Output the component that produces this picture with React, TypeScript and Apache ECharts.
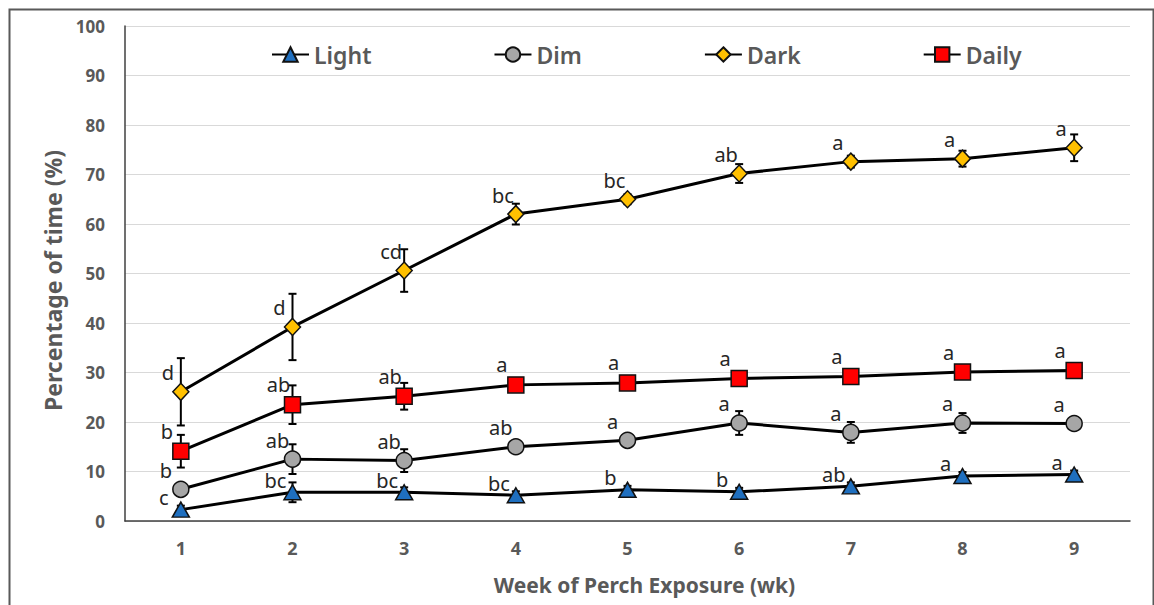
import React, { useEffect, useRef } from "react";
import * as echarts from "echarts";

// Weeks of perch exposure
const weeks = ["1", "2", "3", "4", "5", "6", "7", "8", "9"];

// Mean percentage of time (%) and standard errors per lighting condition
const lightMean = [2.3, 5.8, 5.8, 5.2, 6.3, 5.9, 7.0, 9.1, 9.4];
const lightErr = [0.8, 2.0, 1.0, 0.8, 0.8, 0.8, 0.8, 0.8, 0.8];
const lightLetters = ["c", "bc", "bc", "bc", "b", "b", "ab", "a", "a"];

const dimMean = [6.4, 12.5, 12.2, 15.0, 16.3, 19.8, 17.9, 19.8, 19.7];
const dimErr = [1.2, 3.0, 2.3, 0.8, 0.8, 2.4, 2.1, 2.0, 0.8];
const dimLetters = ["b", "ab", "ab", "ab", "a", "a", "a", "a", "a"];

const darkMean = [26.1, 39.2, 50.6, 62.0, 65.0, 70.2, 72.6, 73.2, 75.4];
const darkErr = [6.8, 6.7, 4.3, 2.1, 1.0, 1.9, 1.2, 1.6, 2.7];
const darkLetters = ["d", "d", "cd", "bc", "bc", "ab", "a", "a", "a"];

const dailyMean = [14.1, 23.5, 25.2, 27.5, 27.9, 28.8, 29.2, 30.1, 30.4];
const dailyErr = [3.3, 3.9, 2.7, 1.0, 0.8, 0.8, 0.6, 0.8, 0.6];
const dailyLetters = ["b", "ab", "ab", "a", "a", "a", "a", "a", "a"];

const yTicks = { min: 0, max: 100, interval: 10 };

const FONT = "'Noto Sans', 'Open Sans', sans-serif";
const AXIS_GRAY = "#595959";

type SeriesDef = {
  name: string;
  mean: number[];
  err: number[];
  letters: string[];
  symbol: string;
  symbolSize: number | number[];
  fill: string;
  letterOffset: number[];
};

const defs: SeriesDef[] = [
  { name: "Light", mean: lightMean, err: lightErr, letters: lightLetters, symbol: "triangle", symbolSize: [17, 15], fill: "#1F6FBF", letterOffset: [-17, -12] },
  { name: "Dim", mean: dimMean, err: dimErr, letters: dimLetters, symbol: "circle", symbolSize: 16, fill: "#A6A6A6", letterOffset: [-15, -19] },
  { name: "Dark", mean: darkMean, err: darkErr, letters: darkLetters, symbol: "diamond", symbolSize: [16, 17], fill: "#FFC000", letterOffset: [-13, -19] },
  { name: "Daily", mean: dailyMean, err: dailyErr, letters: dailyLetters, symbol: "rect", symbolSize: 16, fill: "#FF0000", letterOffset: [-14, -20] },
];

function errorBarSeries(def: SeriesDef) {
  const data = def.mean.map((m, i) => [i, m - def.err[i], m + def.err[i]]);
  return {
    type: "custom",
    name: def.name + " SE",
    z: 1,
    silent: true,
    data,
    renderItem: (params: any, api: any) => {
      const x = api.value(0);
      const lo = api.coord([x, api.value(1)]);
      const hi = api.coord([x, api.value(2)]);
      const half = 4;
      const style = { stroke: "#000", lineWidth: 2 };
      return {
        type: "group",
        children: [
          { type: "line", shape: { x1: lo[0], y1: lo[1], x2: hi[0], y2: hi[1] }, style },
          { type: "line", shape: { x1: hi[0] - half, y1: hi[1], x2: hi[0] + half, y2: hi[1] }, style },
          { type: "line", shape: { x1: lo[0] - half, y1: lo[1], x2: lo[0] + half, y2: lo[1] }, style },
        ],
      };
    },
  };
}

function lineSeries(def: SeriesDef) {
  return {
    type: "line",
    name: def.name,
    z: 3,
    data: def.mean,
    symbol: def.symbol,
    symbolSize: def.symbolSize,
    showAllSymbol: true,
    lineStyle: { color: "#000", width: 3 },
    itemStyle: { color: def.fill, borderColor: "#111", borderWidth: 1.5 },
    label: {
      show: true,
      position: "inside",
      offset: def.letterOffset,
      align: "center",
      verticalAlign: "middle",
      fontFamily: FONT,
      fontSize: 20,
      color: "#262626",
      formatter: (p: any) => def.letters[p.dataIndex],
    },
  };
}

export default function App() {
  const ref = useRef<HTMLDivElement>(null);

  useEffect(() => {
    if (!ref.current) return;
    const chart = echarts.init(ref.current, undefined, { renderer: "svg" });
    chart.setOption({
      animation: false,
      backgroundColor: "#fff",
      grid: { left: 125, right: 24, top: 26, bottom: 84 },
      legend: {
        data: defs.map((d) => d.name),
        left: 266,
        top: 38,
        itemWidth: 37,
        itemHeight: 18,
        itemGap: 122,
        selectedMode: false,
        textStyle: { fontFamily: FONT, fontSize: 23, fontWeight: 600, color: AXIS_GRAY },
      },
      xAxis: {
        type: "category",
        data: weeks,
        boundaryGap: true,
        axisTick: { show: false },
        axisLine: { lineStyle: { color: "#404040", width: 1.5 } },
        axisLabel: { fontFamily: FONT, fontSize: 18, fontWeight: "bold", color: AXIS_GRAY, margin: 18 },
        name: "Week of Perch Exposure (wk)",
        nameLocation: "middle",
        nameGap: 53,
        nameTextStyle: { fontFamily: FONT, fontSize: 21, fontWeight: "bold", color: AXIS_GRAY, padding: [0, 0, 0, 34] },
      },
      yAxis: {
        type: "value",
        min: yTicks.min,
        max: yTicks.max,
        interval: yTicks.interval,
        axisLine: { show: true, lineStyle: { color: "#404040", width: 1.5 } },
        axisTick: { show: false },
        splitLine: { lineStyle: { color: "#D9D9D9", width: 1 } },
        axisLabel: { fontFamily: FONT, fontSize: 17, fontWeight: "bold", color: AXIS_GRAY, margin: 20 },
        name: "Percentage of time (%)",
        nameLocation: "middle",
        nameGap: 58,
        nameTextStyle: { fontFamily: FONT, fontSize: 23, fontWeight: "bold", color: AXIS_GRAY, padding: [0, 14, 0, 0] },
      },
      graphic: [
        {
          type: "rect",
          left: 7,
          top: 7,
          shape: { width: 1144, height: 620 },
          style: { fill: "none", stroke: "#595959", lineWidth: 2 },
          silent: true,
        },
      ],
      series: [...defs.map(errorBarSeries), ...defs.map(lineSeries)],
    });
    return () => chart.dispose();
  }, []);

  return (
    <div
      ref={ref}
      style={{ position: "absolute", left: 0, top: 0, width: 1154, height: 605 }}
    />
  );
}
